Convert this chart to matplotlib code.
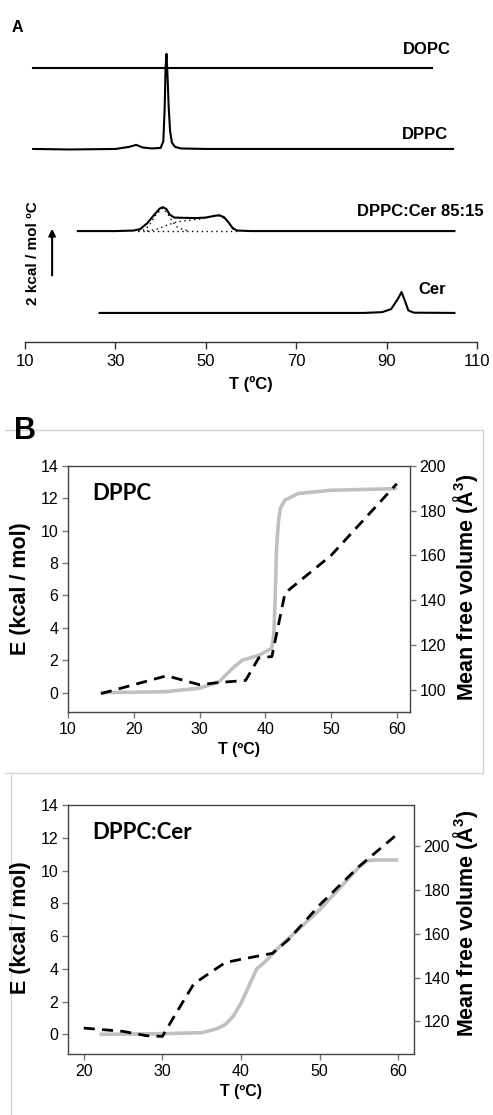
import numpy as np
import matplotlib.pyplot as plt
from matplotlib.lines import Line2D

plt.rcParams['font.family'] = ['Liberation Sans', 'DejaVu Sans']
plt.rcParams['mathtext.fontset'] = 'custom'
plt.rcParams['mathtext.bf'] = 'Liberation Sans:bold'
plt.rcParams['mathtext.rm'] = 'Liberation Sans:bold'

# ---- panel A: DSC thermograms (T in C, height above own baseline in kcal/mol C)
dopc_T = [11.8, 30, 50, 70, 100]
dopc_cp = [0, 0, 0, 0, 0]

dppc_T = [11.8, 20, 30, 33, 34.6, 36, 38, 40, 40.6, 40.9, 41.1, 41.3, 41.5, 41.8, 42.1, 42.5, 43.2, 44.5, 50, 104.7]
dppc_cp = [0, -0.02, 0, 0.08, 0.16, 0.06, 0.02, 0.04, 0.3, 1.6, 3.2, 3.73, 3.0, 1.6, 0.7, 0.25, 0.08, 0.02, 0, 0]

mix_T = [21.7, 30, 34, 35.5, 37, 38.5, 39.8, 40.5, 41.3, 42, 43, 45, 48, 50, 52, 53, 54, 55, 56, 57, 60, 105]
mix_cp = [0, 0, 0.02, 0.08, 0.3, 0.62, 0.88, 0.94, 0.86, 0.65, 0.53, 0.52, 0.51, 0.53, 0.6, 0.62, 0.55, 0.35, 0.1, 0.02, 0, 0]
comp1_T = [35, 36.5, 37.5, 39, 40.5, 41.5, 42.5, 43.5, 45, 46.5]
comp1_cp = [0, 0.05, 0.22, 0.65, 0.9, 0.7, 0.4, 0.18, 0.05, 0]
comp2_T = [37, 39, 41, 43, 45, 48, 51, 53, 54.5, 55.5, 57]
comp2_cp = [0, 0.06, 0.2, 0.33, 0.4, 0.45, 0.55, 0.6, 0.45, 0.2, 0]
base_T = [35, 57]
base_cp = [0, 0]

cer_T = [26.5, 60, 85, 89, 91, 92.5, 93.3, 94, 94.8, 96, 105]
cer_cp = [0, 0, 0, 0.03, 0.15, 0.55, 0.82, 0.5, 0.1, 0.01, 0]

a_xticks = [10, 30, 50, 70, 90, 110]

# ---- panel B: DPPC
dppc_e_T = [15, 20, 25, 30, 33, 35, 36.5, 39, 41, 41.3, 41.5, 41.7, 42.0, 42.3, 43, 45, 50, 60]
dppc_e = [0, 0.02, 0.06, 0.27, 0.68, 1.5, 2.0, 2.3, 2.74, 3.6, 5.8, 8.8, 10.6, 11.4, 11.9, 12.3, 12.5, 12.6]
dppc_v_T = [15, 25, 30, 33, 37, 39, 41, 43, 50, 60]
dppc_v = [98.2, 106.2, 102.2, 103.2, 104.1, 114.2, 114.8, 143.2, 160, 192.1]

# ---- panel B: DPPC:Cer
cer_e_T = [22, 30, 35, 37, 38, 39, 40, 41, 42, 43, 45, 50, 55, 56, 57, 60]
cer_e = [0, 0.04, 0.1, 0.35, 0.6, 1.1, 1.9, 2.95, 4.0, 4.4, 5.4, 7.6, 10.2, 10.6, 10.64, 10.64]
cer_v_T = [20, 25, 28, 30, 32, 34, 36, 38, 40, 44, 46, 50, 55, 60]
cer_v = [117, 115.5, 113.5, 113.2, 125.3, 137.1, 142, 146.8, 148.3, 151, 157.1, 173, 190.5, 205.6]

W, H = 493, 1115
fig = plt.figure(figsize=(W / 100, H / 100), dpi=100)


def px_axes(l, t, r, b):
    return fig.add_axes([l / W, 1 - b / H, (r - l) / W, (b - t) / H])


# ================= panel A
ax = px_axes(25, 30, 477, 342)
ax.set_xlim(10, 110)
ax.set_ylim(0, 312 / 25.5)
for s in ['top', 'left', 'right']:
    ax.spines[s].set_visible(False)
ax.spines['bottom'].set_color('#333333')
ax.spines['bottom'].set_linewidth(1.0)
ax.set_yticks([])
ax.set_xticks(a_xticks)
ax.tick_params(axis='x', direction='out', length=5, width=1, color='#333333', labelsize=12, pad=4)
ax.set_xlabel('T (ºC)', fontsize=12, fontweight='bold', labelpad=5)

kw = dict(color='black', lw=1.5)
ax.plot(dopc_T, np.array(dopc_cp) + 10.75, **kw)
ax.plot(dppc_T, np.array(dppc_cp) + 7.57, **kw)
ax.plot(mix_T, np.array(mix_cp) + 4.35, **kw)
for tt, cc in [(comp1_T, comp1_cp), (comp2_T, comp2_cp), (base_T, base_cp)]:
    ax.plot(tt, np.array(cc) + 4.35, color='black', lw=1.0, ls=(0, (1, 2.5)))
ax.plot(cer_T, np.array(cer_cp) + 1.14, **kw)

tkw = dict(fontsize=12, fontweight='bold', ha='center', va='center')
ax.text(98.9, 11.49, 'DOPC', **tkw)
ax.text(98.5, 8.12, 'DPPC', **tkw)
ax.text(97.4, 5.10, 'DPPC:Cer 85:15', **tkw)
ax.text(100.0, 2.04, 'Cer', **tkw)

ax.annotate('', xy=(16, 4.55), xytext=(16, 2.5),
            arrowprops=dict(arrowstyle='-|>', color='black', lw=1.5, mutation_scale=10))
ax.text(11.8, 3.5, '2 kcal / mol ºC', rotation=90, fontsize=11, fontweight='bold',
        ha='center', va='center')
fig.text(17 / W, 1 - 27 / H, 'A', fontsize=11.5, fontweight='bold', ha='center', va='center')

# ---- Excel chart-area borders for panel B
border = '#d4d4d4'
fig.add_artist(Line2D([5 / W, 483 / W], [1 - 430 / H, 1 - 430 / H], color=border, lw=1))
fig.add_artist(Line2D([483 / W, 483 / W], [1 - 430 / H, 1 - 773 / H], color=border, lw=1))
fig.add_artist(Line2D([5 / W, 483 / W], [1 - 773 / H, 1 - 773 / H], color=border, lw=1))
fig.add_artist(Line2D([11 / W, 11 / W], [1 - 775 / H, 0], color=border, lw=1))

fig.text(14 / W, 1 - 431 / H, 'B', fontsize=22, fontweight='bold', ha='left', va='center')


def panel_b(box, xlim, xticks, vlim, vticks, eT, e, vT, v, name, ylab_y, vlab_y):
    a = px_axes(*box)
    a.set_xlim(*xlim)
    a.set_ylim(-1.2, 14)
    a.set_xticks(xticks)
    a.set_yticks(range(0, 15, 2))
    for s in a.spines.values():
        s.set_color('#444444')
        s.set_linewidth(1.0)
    a.tick_params(direction='out', length=4, width=1, color='#777777', labelsize=11.5, pad=3)
    a.plot(eT, e, color='#c0c0c0', lw=2.6, solid_capstyle='butt')
    a.set_xlabel('T (ºC)', fontsize=11.5, fontweight='bold', labelpad=4)
    a.text(0.07, 0.89, name, transform=a.transAxes,
           fontsize=16, fontweight='bold', family=['Lato', 'DejaVu Sans'], ha='left', va='center')
    b2 = a.twinx()
    b2.set_ylim(*vlim)
    b2.set_yticks(vticks)
    for s in b2.spines.values():
        s.set_visible(False)
    b2.tick_params(direction='out', length=4, width=1, color='#777777', labelsize=11.5, pad=3)
    b2.plot(vT, v, color='black', lw=2.0, ls=(0, (4, 2.6)))
    fig.text(21 / W, 1 - ylab_y / H, 'E (kcal / mol)', rotation=90, fontsize=15.5, fontweight='bold',
             ha='center', va='center')
    fig.text(466 / W, 1 - vlab_y / H, r'Mean free volume (Å$^{\mathbf{3}}$)', rotation=90, fontsize=15.5,
             fontweight='bold', ha='center', va='center')
    return a


panel_b((68, 466, 410, 712), (10, 62), [10, 20, 30, 40, 50, 60], (90, 200),
        [100, 120, 140, 160, 180, 200], dppc_e_T, dppc_e, dppc_v_T, dppc_v, 'DPPC', 589, 587)
panel_b((68, 805, 414, 1054), (18, 62), [20, 30, 40, 50, 60], (105.2, 218.5),
        [120, 140, 160, 180, 200], cer_e_T, cer_e, cer_v_T, cer_v, 'DPPC:Cer', 928, 923)

fig.savefig('out.png', dpi=100)
